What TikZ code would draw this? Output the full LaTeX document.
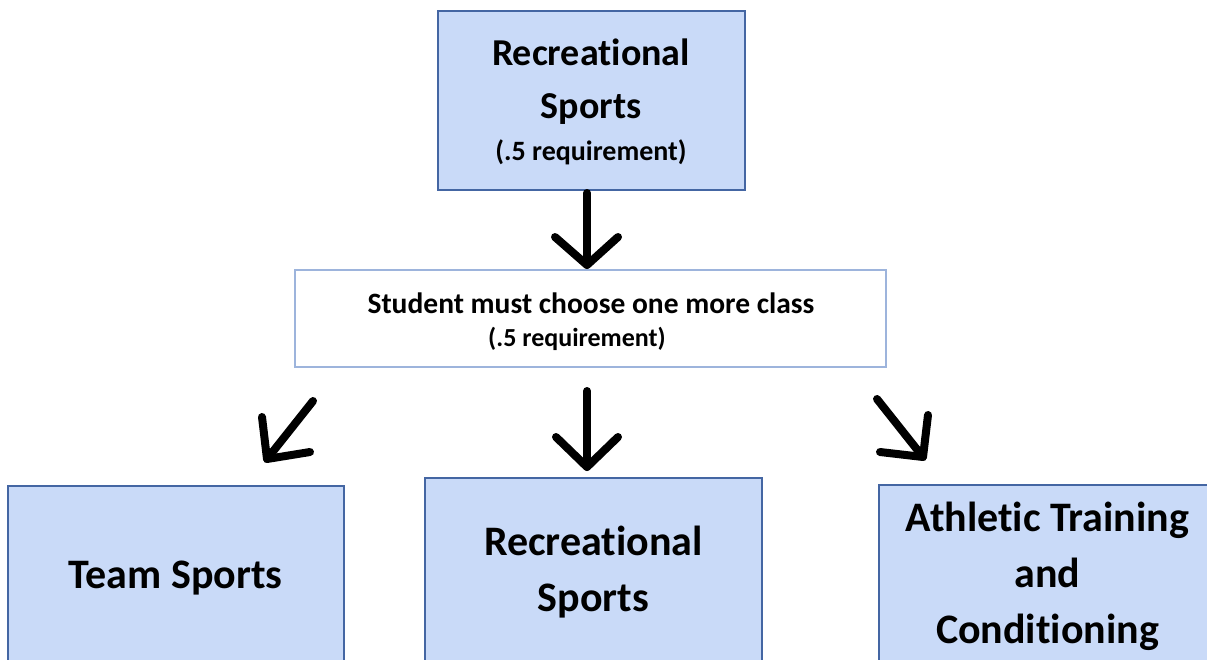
\documentclass[tikz,border=0pt]{standalone}
\usepackage{fontspec}
\setmainfont{Carlito}[RawFeature={-liga;-clig;-calt}]
\definecolor{boxfill}{HTML}{C9DAF8}
\definecolor{boxline}{HTML}{4466A3}
\definecolor{midline}{HTML}{9DB4DC}
\begin{document}
\begin{tikzpicture}[x=1pt,y=-1pt,
  bluebox/.style={draw=boxline,fill=boxfill,line width=2pt,inner sep=0pt},
  whitebox/.style={draw=midline,fill=white,line width=1.5pt,inner sep=0pt},
  txt/.style={anchor=base,inner sep=0pt,font=\bfseries},
  arr/.style={line width=8pt,line cap=round,line join=round,black}]
\useasboundingbox (0,0) rectangle (1207,659);
\clip (0,0) rectangle (1207,659);
% boxes
\node[bluebox,minimum width=307pt,minimum height=179pt] (top) at (591.5,100.5) {};
\node[whitebox,minimum width=591pt,minimum height=97pt] (mid) at (590.5,318.5) {};
\node[bluebox,minimum width=336pt,minimum height=190pt] (left) at (176,581) {};
\node[bluebox,minimum width=337pt,minimum height=198pt] (center) at (593.5,577) {};
\node[bluebox,minimum width=337pt,minimum height=190pt] (right) at (1047.5,580) {};
% texts
\node[txt,font=\bfseries\fontsize{38}{40}\selectfont] (t1) at (591,65) {Recreational};
\node[txt,font=\bfseries\fontsize{38}{40}\selectfont] (t2) at (591,118) {Sports};
\node[txt,font=\bfseries\fontsize{28}{30}\selectfont] (t3) at (591,160) {(.5 requirement)};
\node[txt,font=\bfseries\fontsize{29.5}{31}\selectfont] (m1) at (591,313) {Student must choose one more class};
\node[txt,font=\bfseries\fontsize{26}{28}\selectfont] (m2) at (577,346) {(.5 requirement)};
\node[txt,font=\bfseries\fontsize{42}{44}\selectfont] (l1) at (175.5,588) {Team Sports};
\node[txt,font=\bfseries\fontsize{42}{44}\selectfont] (c1) at (593.5,555) {Recreational};
\node[txt,font=\bfseries\fontsize{42}{44}\selectfont] (c2) at (593.5,611) {Sports};
\node[txt,font=\bfseries\fontsize{42}{44}\selectfont] (r1) at (1047.5,531) {Athletic Training};
\node[txt,font=\bfseries\fontsize{42}{44}\selectfont] (r2) at (1047.5,587) {and};
\node[txt,font=\bfseries\fontsize{42}{44}\selectfont] (r3) at (1047.5,643) {Conditioning};
% arrow coordinates
\coordinate (a0s) at (587,193);
\coordinate (a0t) at (587,265);
\coordinate (a1s) at (313,401);
\coordinate (a1t) at (267,459);
\coordinate (a2s) at (587,391);
\coordinate (a2t) at (587,467);
\coordinate (a3s) at (877,399);
\coordinate (a3t) at (923,457);
% arrows
\draw[arr] (a0s) -- (a0t);
\draw[arr] (555,237) -- (a0t) -- (618,237);
\draw[arr] (a1s) -- (a1t);
\draw[arr] (262,417) -- (a1t) -- (310,452);
\draw[arr] (a2s) -- (a2t);
\draw[arr] (556,437) -- (a2t) -- (618,437);
\draw[arr] (a3s) -- (a3t);
\draw[arr] (928,415) -- (a3t) -- (880,452);
\end{tikzpicture}
\end{document}
